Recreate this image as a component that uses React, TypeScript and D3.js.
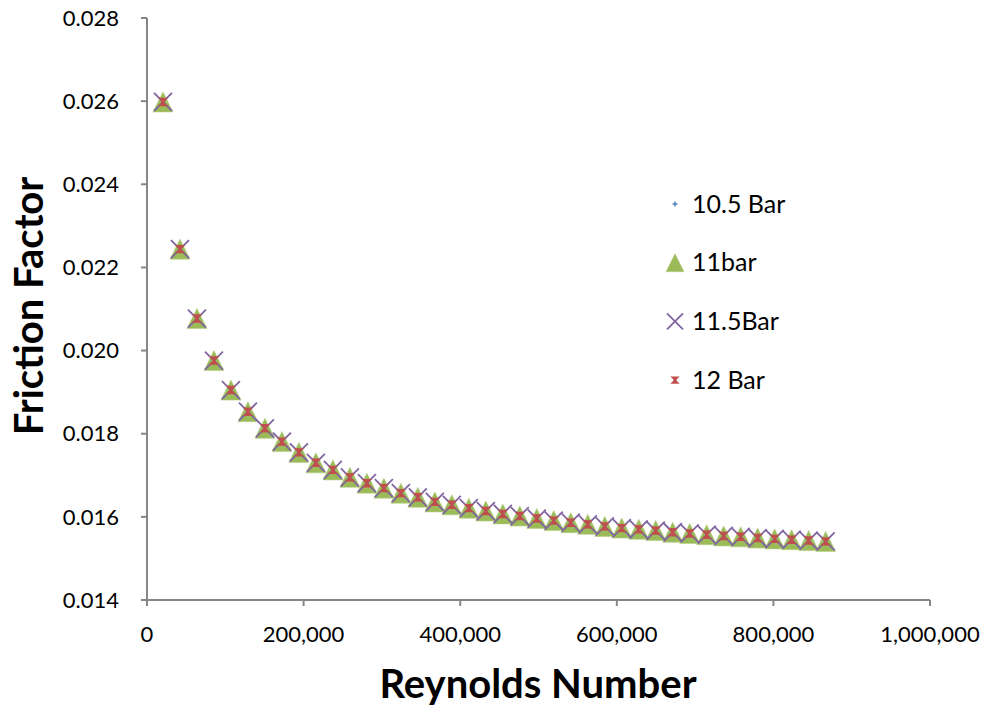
import React from "react";
import * as d3 from "d3";

// Reynolds numbers
const reynolds = [
  20400, 42100, 63800, 85500, 107200, 128900, 150600, 172300, 194000, 215700,
  237400, 259100, 280800, 302500, 324200, 345900, 367600, 389300, 411000, 432700,
  454400, 476100, 497800, 519500, 541200, 562900, 584600, 606300, 628000, 649700,
  671400, 693100, 714800, 736500, 758200, 779900, 801600, 823300, 845000, 866700,
];

// Friction factor (all four pressure series overlap in the picture)
const ff105Bar = [
  0.02598, 0.02244, 0.02077, 0.01976, 0.01905, 0.01853, 0.01813, 0.01781, 0.01755, 0.01730,
  0.01713, 0.01695, 0.01681, 0.01669, 0.01657, 0.01647, 0.01636, 0.01629, 0.01621, 0.01614,
  0.01607, 0.01602, 0.01596, 0.01591, 0.01586, 0.01582, 0.01577, 0.01573, 0.01570, 0.01567,
  0.01563, 0.01560, 0.01557, 0.01554, 0.01552, 0.01549, 0.01547, 0.01545, 0.01543, 0.01541,
];
const ff11bar = [...ff105Bar];
const ff115Bar = [...ff105Bar];
const ff12Bar = [...ff105Bar];

const seriesNames = ["10.5 Bar", "11bar", "11.5Bar", "12 Bar"];
const xTicks = [0, 200000, 400000, 600000, 800000, 1000000];
const yTicks = [0.014, 0.016, 0.018, 0.02, 0.022, 0.024, 0.026, 0.028];

const W = 989;
const H = 707;
const FONT = "Lato, 'Liberation Sans', sans-serif";
const AXIS = "#868686";
const BLUE = "#4F81BD";
const GREEN = "#9BBB59";
const PURPLE = "#8064A2";
const RED = "#C0504D";

const x = d3.scaleLinear().domain([0, 1000000]).range([147, 930]);
const y = d3.scaleLinear().domain([0.014, 0.028]).range([600, 18]);
const fmtX = d3.format(",");
const fmtY = d3.format(".3f");

type MarkerKind = "plus" | "tri" | "x" | "star";

function Marker({ kind, cx, cy, big = true }: { kind: MarkerKind; cx: number; cy: number; big?: boolean }) {
  if (kind === "plus") {
    const s = 2.5;
    return (
      <g stroke={BLUE} strokeWidth={1.5}>
        <line x1={cx - s} x2={cx + s} y1={cy} y2={cy} />
        <line x1={cx} x2={cx} y1={cy - s} y2={cy + s} />
      </g>
    );
  }
  if (kind === "tri") {
    const h = big ? 10 : 9;
    const tri = d3.line()([
      [cx, cy - h],
      [cx + h, cy + h],
      [cx - h, cy + h],
    ]) + "Z";
    return <path d={tri} fill={GREEN} stroke="#b5cf87" strokeWidth={0.6} />;
  }
  if (kind === "x") {
    const s = big ? 9 : 8;
    return (
      <g stroke={PURPLE} strokeWidth={1.8}>
        <line x1={cx - s} x2={cx + s} y1={cy - s} y2={cy + s} />
        <line x1={cx - s} x2={cx + s} y1={cy + s} y2={cy - s} />
      </g>
    );
  }
  const s = big ? 3.5 : 3;
  return (
    <g>
      <path
        d={`M${cx - s},${cy - s}L${cx + s},${cy - s}L${cx},${cy}Z M${cx - s},${cy + s}L${cx + s},${cy + s}L${cx},${cy}Z`}
        fill={RED}
        stroke={RED}
        strokeWidth={1.4}
      />
      <rect x={cx - 1.5} y={cy - 1.5} width={3} height={3} fill={RED} />
    </g>
  );
}

const series: { name: string; values: number[]; kind: MarkerKind }[] = [
  { name: seriesNames[0], values: ff105Bar, kind: "plus" },
  { name: seriesNames[1], values: ff11bar, kind: "tri" },
  { name: seriesNames[2], values: ff115Bar, kind: "x" },
  { name: seriesNames[3], values: ff12Bar, kind: "star" },
];

export default function App() {
  return (
    <svg
      width={W}
      height={H}
      style={{ position: "absolute", left: 0, top: 0, background: "#fff" }}
      fontFamily={FONT}
    >
      <rect width={W} height={H} fill="#fff" />
      {/* Y axis */}
      <line x1={147} x2={147} y1={y(0.028)} y2={y(0.014)} stroke={AXIS} strokeWidth={2} />
      {yTicks.map((t) => (
        <g key={t}>
          <line x1={141} x2={147} y1={y(t)} y2={y(t)} stroke={AXIS} strokeWidth={2} />
          <text x={119} y={y(t)} dy="0.35em" textAnchor="end" fontSize={22} fill="#000">
            {fmtY(t)}
          </text>
        </g>
      ))}
      {/* X axis */}
      <line x1={x(0)} x2={x(1000000)} y1={600} y2={600} stroke={AXIS} strokeWidth={2} />
      {xTicks.map((t) => (
        <g key={t}>
          <line x1={x(t)} x2={x(t)} y1={600} y2={606} stroke={AXIS} strokeWidth={2} />
          <text x={x(t)} y={634} dy="0.35em" textAnchor="middle" fontSize={22} fill="#000">
            {fmtX(t)}
          </text>
        </g>
      ))}
      {/* Titles */}
      <text
        x={538}
        y={684}
        dy="0.35em"
        textAnchor="middle"
        fontSize={40}
        fontWeight="bold"
        fill="#000"
      >
        Reynolds Number
      </text>
      <text
        transform={`translate(29,306) rotate(-90)`}
        dy="0.35em"
        textAnchor="middle"
        fontSize={40}
        fontWeight="bold"
        fill="#000"
      >
        Friction Factor
      </text>
      {/* Data */}
      {series.map((s) => (
        <g key={s.name}>
          {s.values.map((v, i) => (
            <Marker key={i} kind={s.kind} cx={x(reynolds[i])} cy={y(v)} />
          ))}
        </g>
      ))}
      {/* Legend */}
      {series.map((s, i) => {
        const cy = 204 + i * 58.7;
        return (
          <g key={s.name}>
            <Marker kind={s.kind} cx={675} cy={cy} big={false} />
            <text x={692} y={cy} dy="0.35em" fontSize={25} fill="#000">
              {s.name}
            </text>
          </g>
        );
      })}
    </svg>
  );
}
